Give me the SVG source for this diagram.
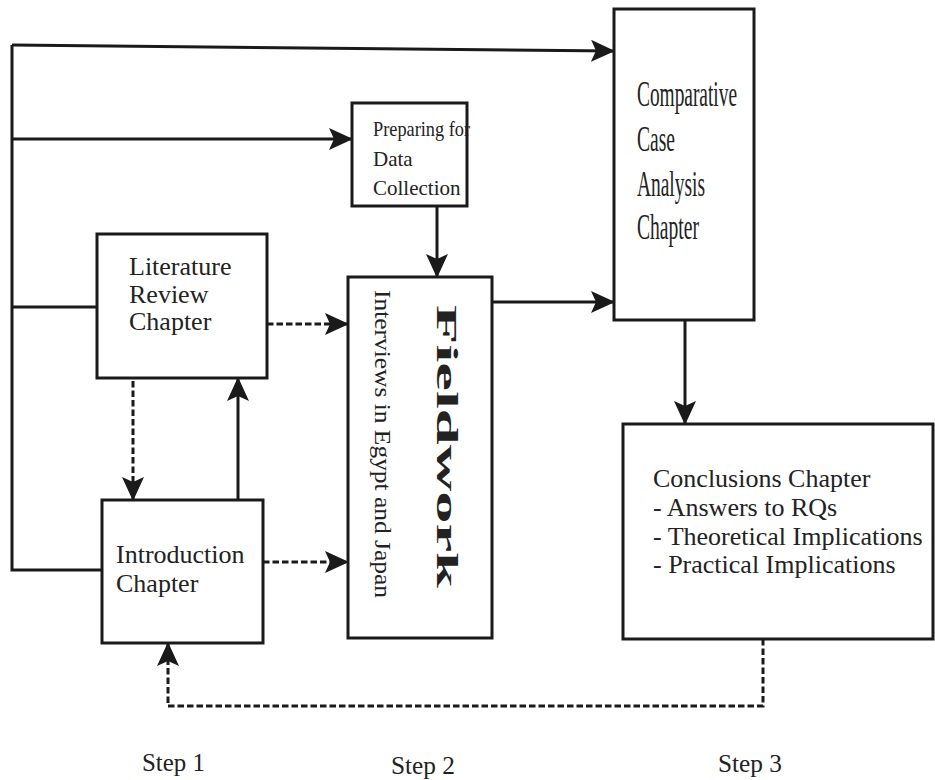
<svg xmlns="http://www.w3.org/2000/svg" width="935" height="780" viewBox="0 0 935 780">
  <style>
    .box { fill: #ffffff; stroke: #1a1a1a; stroke-width: 3; }
    .lbl { font-family: "Liberation Serif", "Times New Roman", serif; fill: #222222; }
    .wire { fill: none; stroke: #1a1a1a; stroke-width: 3; }
    .dash { stroke-dasharray: 6.5 3; }
  </style>
  <defs>
    <marker id="head" viewBox="0 0 24 22" refX="23" refY="11" markerWidth="24" markerHeight="22" markerUnits="userSpaceOnUse" orient="auto">
      <path d="M0,0 L24,11 L0,22 L5,11 z" fill="#1a1a1a"/>
    </marker>
  </defs>
  <rect width="935" height="780" fill="#ffffff"/>

  <!-- connectors -->
  <g id="connectors">
    <!-- left trunk feeding every chapter -->
    <path class="wire" d="M12,45 L12,570 L102,570"/>
    <path class="wire" d="M12,307 L97,307"/>
    <path class="wire" d="M12,45 L614,51" marker-end="url(#head)"/>
    <path class="wire" d="M12,139 L352,139" marker-end="url(#head)"/>
    <!-- main flow -->
    <path class="wire" d="M437,206 L437,277" marker-end="url(#head)"/>
    <path class="wire" d="M492,302 L614,302" marker-end="url(#head)"/>
    <path class="wire" d="M685,320 L685,424" marker-end="url(#head)"/>
    <path class="wire" d="M238,500 L238,378" marker-end="url(#head)"/>
    <!-- dashed feedback links -->
    <path class="wire dash" d="M267,324 L348,324" marker-end="url(#head)"/>
    <path class="wire dash" d="M263,562 L348,562" marker-end="url(#head)"/>
    <path class="wire dash" d="M133,381 L133,500" marker-end="url(#head)"/>
    <path class="wire dash" d="M763,639 L763,706 L168,706 L168,643" marker-end="url(#head)"/>
  </g>

  <g id="preparing">
    <rect class="box" x="352" y="103" width="115" height="103"/>
    <text class="lbl" font-size="21"><tspan x="373" y="136" textLength="97" lengthAdjust="spacingAndGlyphs">Preparing for</tspan><tspan x="373" y="166">Data</tspan><tspan x="373" y="195">Collection</tspan></text>
  </g>

  <g id="literature">
    <rect class="box" x="97" y="234" width="170" height="144"/>
    <text class="lbl" font-size="26"><tspan x="129" y="275">Literature</tspan><tspan x="129" y="303">Review</tspan><tspan x="129" y="330">Chapter</tspan></text>
  </g>

  <g id="introduction">
    <rect class="box" x="102" y="500" width="161" height="143"/>
    <text class="lbl" font-size="26"><tspan x="116" y="563">Introduction</tspan><tspan x="116" y="592">Chapter</tspan></text>
  </g>

  <g id="fieldwork">
    <rect class="box" x="348" y="277" width="144" height="361"/>
    <text class="lbl" font-size="30" font-weight="bold" transform="translate(437,305) rotate(90)" textLength="283" lengthAdjust="spacingAndGlyphs">Fieldwork</text>
    <text class="lbl" font-size="24" transform="translate(375,290) rotate(90)" textLength="308" lengthAdjust="spacingAndGlyphs">Interviews in Egypt and Japan</text>
  </g>

  <g id="comparative">
    <rect class="box" x="614" y="9" width="140" height="311"/>
    <text class="lbl" font-size="36" x="637" y="106" textLength="100" lengthAdjust="spacingAndGlyphs">Comparative</text>
    <text class="lbl" font-size="36" x="637" y="151" textLength="38" lengthAdjust="spacingAndGlyphs">Case</text>
    <text class="lbl" font-size="36" x="637" y="196" textLength="68" lengthAdjust="spacingAndGlyphs">Analysis</text>
    <text class="lbl" font-size="36" x="637" y="239" textLength="62" lengthAdjust="spacingAndGlyphs">Chapter</text>
  </g>

  <g id="conclusions">
    <rect class="box" x="623" y="424" width="310" height="215"/>
    <text class="lbl" font-size="26"><tspan x="653" y="487">Conclusions Chapter</tspan><tspan x="653" y="516">- Answers to RQs</tspan><tspan x="653" y="545">- Theoretical Implications</tspan><tspan x="653" y="573">- Practical Implications</tspan></text>
  </g>

  <g id="steps">
    <text class="lbl" font-size="26" x="142" y="771" textLength="63" lengthAdjust="spacingAndGlyphs">Step 1</text>
    <text class="lbl" font-size="26" x="391" y="774" textLength="64" lengthAdjust="spacingAndGlyphs">Step 2</text>
    <text class="lbl" font-size="26" x="718" y="772" textLength="64" lengthAdjust="spacingAndGlyphs">Step 3</text>
  </g>
</svg>
